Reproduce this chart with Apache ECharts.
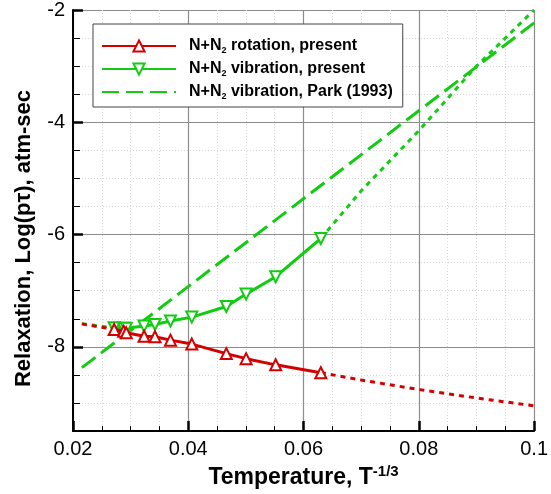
<!DOCTYPE html>
<html>
<head>
<meta charset="utf-8">
<script src="https://cdn.jsdelivr.net/npm/echarts@6/dist/echarts.min.js"></script>
<style>
  html, body { margin: 0; padding: 0; background: #fff; }
  #chart { width: 551px; height: 494px; }
</style>
</head>
<body>
<div id="chart"></div>
<script>
// Inverse cube-root temperature of the computed cases (T = 50000 ... 4000 K)
const tempX = [0.02714, 0.02879, 0.02924, 0.03233, 0.03422, 0.03691, 0.04061, 0.04660, 0.05003, 0.05517, 0.06300];
// log10(p*tau) [atm-sec] for rotational relaxation
const rotY = [-7.69, -7.72, -7.75, -7.81, -7.82, -7.88, -7.95, -8.12, -8.21, -8.32, -8.46];
// log10(p*tau) [atm-sec] for vibrational relaxation
const vibY = [-7.66, -7.67, -7.67, -7.63, -7.60, -7.54, -7.47, -7.28, -7.06, -6.75, -6.07];

// Extrapolated (dotted) parts of the present fits
const rotLeftX = [0.02154, 0.02714];
const rotLeftY = [-7.59, -7.69];
const rotRightX = [0.063, 0.07, 0.08, 0.09, 0.1];
const rotRightY = [-8.46, -8.59, -8.76, -8.91, -9.05];
const vibLeftX = [0.02154, 0.02714];
const vibLeftY = [-7.59, -7.66];
const vibRightX = [0.063, 0.07, 0.08, 0.09, 0.1];
const vibRightY = [-6.07, -5.22, -4.15, -3.0, -2.0];

// Park (1993) Millikan-White type correlation, straight line in these coordinates
const parkX = [0.02154, 0.1];
const parkY = [-8.37, -2.23];

// Labelled y values
const yMajor = [-8, -6, -4, -2];

const RED = '#d40000';
const GREEN = '#11cc11';
const FONT = '"Liberation Sans", Arial, Helvetica, sans-serif';

const pairs = (xs, ys) => xs.map((x, i) => [x, ys[i]]);
const broken = (ax, ay, bx, by) => pairs(ax, ay).concat([['-', '-']], pairs(bx, by));

const legendRich = {
  g: { width: 8 },
  b: { fontSize: 16, fontWeight: 'bold', fontFamily: FONT, color: '#000', lineHeight: 18 },
  s: { fontSize: 9, fontWeight: 'bold', fontFamily: FONT, color: '#000', verticalAlign: 'bottom' }
};
const legendText = {
  rot: '{g|}{b|N+N}{s|2}{b| rotation, present}',
  vib: '{g|}{b|N+N}{s|2}{b| vibration, present}',
  park: '{g|}{b|N+N}{s|2}{b| vibration, Park (1993)}'
};

const chart = echarts.init(document.getElementById('chart'), null, { renderer: 'canvas' });

chart.setOption({
  animation: false,
  backgroundColor: '#fff',
  grid: { left: 73, right: 11, top: 10, bottom: 59, containLabel: false },
  legend: {
    orient: 'vertical',
    left: 93,
    top: 24,
    padding: [14, 10, 6, 8],
    itemGap: 6,
    itemWidth: 74,
    itemHeight: 14,
    backgroundColor: '#fff',
    borderColor: '#444',
    borderWidth: 1,
    borderRadius: 0,
    data: ['rot', 'vib', { name: 'park', itemStyle: { opacity: 0 } }],
    formatter: (name) => legendText[name],
    textStyle: { rich: legendRich }
  },
  xAxis: {
    type: 'value',
    min: 0.02,
    max: 0.1,
    interval: 0.02,
    name: '{t|Temperature, T}{p|-1/3}',
    nameLocation: 'middle',
    nameGap: 27,
    nameTextStyle: {
      rich: {
        t: { fontSize: 23, fontWeight: 'bold', fontFamily: FONT, color: '#000', lineHeight: 27 },
        p: { fontSize: 15, fontWeight: 'bold', fontFamily: FONT, color: '#000', verticalAlign: 'top' }
      }
    },
    axisLine: { show: true, onZero: false, lineStyle: { color: '#000', width: 2 } },
    axisTick: { show: true, inside: true, length: 10, lineStyle: { color: '#000', width: 2.5 } },
    minorTick: { show: true, splitNumber: 4, length: 5, lineStyle: { color: '#000', width: 1 } },
    axisLabel: { color: '#000', fontSize: 20, fontFamily: FONT, margin: 8 },
    splitLine: { show: true, lineStyle: { color: '#8c8c8c', width: 1.2 } },
    minorSplitLine: { show: true, lineStyle: { color: '#d8d8d8', width: 1, type: [1, 2] } }
  },
  yAxis: [
    {
      type: 'value',
      min: -9.5,
      max: -2,
      interval: 0.5,
      name: 'Relaxation, Log(p\u03c4), atm-sec',
      nameLocation: 'middle',
      nameRotate: 90,
      nameGap: 38,
      nameTextStyle: { fontSize: 22, fontWeight: 'bold', fontFamily: FONT, color: '#000', padding: [0, 36, 0, 0] },
      axisLine: { show: true, onZero: false, lineStyle: { color: '#000', width: 2 } },
      axisTick: { show: true, inside: true, length: 7, lineStyle: { color: '#000', width: 1 } },
      axisLabel: {
        color: '#000', fontSize: 20, fontFamily: FONT, margin: 8,
        formatter: (v) => (Math.abs(v % 2) < 1e-9 ? String(v) : '')
      },
      splitLine: { show: true, lineStyle: { color: '#d8d8d8', width: 1, type: [1, 2] } }
    },
    {
      type: 'value',
      min: -9.5,
      max: -2,
      position: 'left',
      axisLine: { show: false },
      axisTick: { show: true, inside: true, length: 10, customValues: yMajor, lineStyle: { color: '#000', width: 2.5 } },
      axisLabel: { show: false },
      splitLine: { show: true, lineStyle: { color: '#8c8c8c', width: 1.2 } }
    }
  ],
  series: [
    {
      name: 'park',
      type: 'line',
      data: pairs(parkX, parkY),
      symbol: 'none',
      lineStyle: { color: GREEN, width: 3, type: [17, 7] },
      itemStyle: { color: GREEN },
      z: 2
    },
    {
      name: 'vibExt',
      type: 'line',
      data: broken(vibLeftX, vibLeftY, vibRightX, vibRightY),
      symbol: 'none',
      connectNulls: false,
      lineStyle: { color: GREEN, width: 3, type: [5, 5] },
      z: 2
    },
    {
      name: 'rotExt',
      type: 'line',
      data: broken(rotLeftX, rotLeftY, rotRightX, rotRightY),
      symbol: 'none',
      connectNulls: false,
      lineStyle: { color: RED, width: 3, type: [5, 5] },
      z: 2
    },
    {
      name: 'vib',
      type: 'line',
      data: pairs(tempX, vibY),
      symbol: 'triangle',
      symbolRotate: 180,
      symbolSize: 11,
      showAllSymbol: true,
      lineStyle: { color: GREEN, width: 3 },
      itemStyle: { color: '#fff', borderColor: GREEN, borderWidth: 2 },
      z: 3
    },
    {
      name: 'rot',
      type: 'line',
      data: pairs(tempX, rotY),
      symbol: 'triangle',
      symbolSize: 11,
      showAllSymbol: true,
      lineStyle: { color: RED, width: 3 },
      itemStyle: { color: '#fff', borderColor: RED, borderWidth: 2 },
      z: 4
    }
  ]
});
</script>
</body>
</html>
